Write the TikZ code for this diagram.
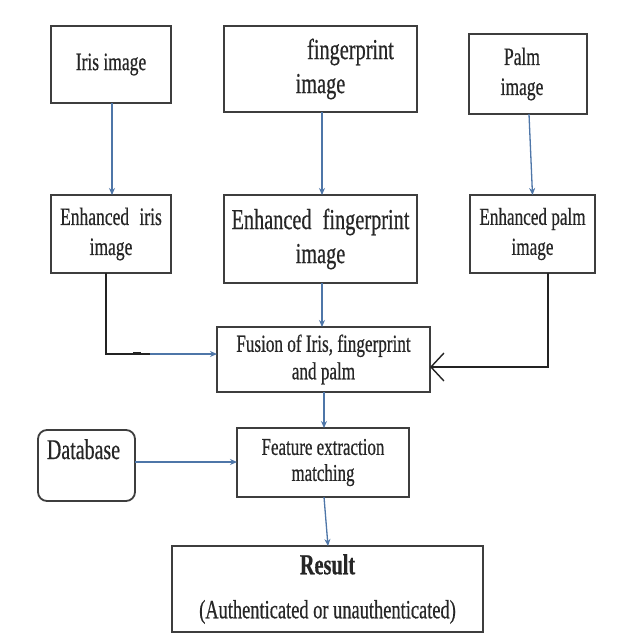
\documentclass[tikz,border=0pt]{standalone}
\usepackage{fontspec}
\setmainfont{Liberation Serif}[FakeStretch=0.7,FakeBold=0.5]
\usetikzlibrary{arrows.meta}
\definecolor{arrblue}{RGB}{78,118,168}
\definecolor{boxgray}{RGB}{62,62,62}
\definecolor{lineblk}{RGB}{35,35,35}
\tikzset{
  box/.style={draw=boxgray, line width=1.8pt, rectangle, inner sep=0pt, outer sep=0pt, align=center, text=black!85},
  smallf/.style={font=\fontsize{25}{30}\selectfont},
  bigf/.style={font=\fontsize{29}{34}\selectfont},
  arr/.style={draw=arrblue, line width=1.3pt, -{Stealth[length=7pt,width=6pt]}},
  blk/.style={draw=lineblk, line width=1.4pt},
  chev/.style={draw=lineblk, line width=1.4pt, -{Straight Barb[length=13pt,width=28pt]}}
}
\begin{document}
\begin{tikzpicture}[x=1pt,y=-1pt]
\useasboundingbox[fill=white] (0,0) rectangle (619,641);
% top row
\node[box, smallf, minimum width=120pt, minimum height=77pt] (iris) at (111,64.5) {Iris image};
\node[box, bigf, minimum width=193pt, minimum height=86pt] (fp) at (320.5,69) {\hspace*{60pt}fingerprint\\image};
\node[box, smallf, minimum width=118pt, minimum height=80pt] (palm) at (528,74) {Palm\hspace*{12pt}\\image\hspace*{12pt}};
% enhanced row
\node[box, smallf, minimum width=120pt, minimum height=78pt] (eiris) at (111,234) {Enhanced\hspace{6pt} iris\\image};
\node[box, bigf, minimum width=193pt, minimum height=88pt] (efp) at (320.5,239) {Enhanced\hspace{6pt} fingerprint\\image};
\node[box, font=\fontsize{24.5}{30}\selectfont, minimum width=125pt, minimum height=78pt] (epalm) at (532.5,234) {Enhanced palm\\image};
% fusion
\node[box, font=\fontsize{24.5}{27.5}\selectfont, minimum width=213pt, minimum height=65pt] (fusion) at (323.5,359.5) {Fusion of Iris, fingerprint\\and palm};
% feature
\node[box, font=\fontsize{24.2}{26}\selectfont, minimum width=172pt, minimum height=69pt] (feature) at (323,462.5) {Feature extraction\\matching};
% database
\node[box, rounded corners=9pt, minimum width=97pt, minimum height=71pt] (db) at (86.5,465.5) {};
\node[anchor=base, font=\fontsize{28.5}{30}\selectfont, text=black!85, inner sep=0pt] (dbt) at (83.5,459) {Database};
% result
\node[box, font=\fontsize{26.3}{30}\selectfont, minimum width=311pt, minimum height=86pt] (result) at (327.5,589) {{\fontsize{29}{30}\selectfont\bfseries Result}\\[14pt](Authenticated or unauthenticated)};
% coordinates
\coordinate (c1) at (150,354);
\coordinate (c3) at (548,367);
\coordinate (c4) at (0,462);
% connectors
\draw[arr] ([xshift=1pt]iris.south) -- ([xshift=1pt]eiris.north);
\draw[arr] ([xshift=1.5pt]fp.south) -- ([xshift=1.5pt]efp.north);
\draw[arr] ([xshift=1pt]palm.south) -- (epalm.north);
\draw[blk] ([xshift=-5pt]eiris.south) |- (c1);
\draw[line width=2.6pt, lineblk] (133,353.2) -- (141,353.2);
\draw[arr] (c1) -- (fusion.west |- c1);
\draw[arr] ([xshift=1.5pt]efp.south) -- ([xshift=1.5pt]efp.south |- fusion.north);
\draw[chev] ([xshift=15.5pt]epalm.south) |- (fusion.east |- c3);
\draw[arr] ([xshift=0.5pt]fusion.south) -- ([xshift=0.5pt]fusion.south |- feature.north);
\draw[arr] (db.east |- c4) -- (feature.west |- c4);
\draw[arr] ([xshift=1pt]feature.south) -- ([xshift=0.5pt]result.north);
\end{tikzpicture}
\end{document}
